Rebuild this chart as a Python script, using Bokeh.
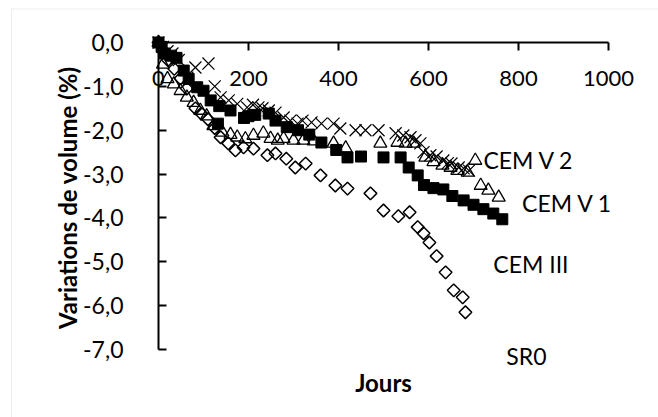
import numpy as np
from bokeh.plotting import figure
from bokeh.models import (Range1d, LinearAxis, FixedTicker, CustomJSTickFormatter,
                          Label, BoxAnnotation)
from bokeh.embed import file_html
from bokeh.resources import INLINE

# ---------------- data ----------------
x_ticks = [0, 200, 400, 600, 800, 1000]
y_ticks = [0, -1, -2, -3, -4, -5, -6, -7]

sr0_days = [0, 10, 21, 35, 49, 63, 82, 95, 110, 125, 138, 155, 171, 189, 211, 242,
            260, 284, 304, 327, 360, 393, 420, 471, 500, 533, 558, 576, 589, 602,
            618, 638, 656, 676, 682]
sr0_vol = [0, -0.2, -0.4, -0.6, -0.82, -1.05, -1.5, -1.62, -1.75, -1.95, -2.16, -2.3,
           -2.46, -2.39, -2.42, -2.57, -2.53, -2.65, -2.85, -2.76, -3.03, -3.26, -3.33,
           -3.44, -3.83, -3.96, -3.87, -4.21, -4.35, -4.56, -4.87, -5.24, -5.65, -5.81,
           -6.15]

cemv1_days = [0, 10, 20, 34, 49, 63, 78, 93, 107, 122, 142, 160, 175, 193, 211, 233,
              249, 265, 278, 300, 322, 345, 389, 416, 493, 531, 549, 567, 593, 611,
              631, 649, 664, 687, 704, 716, 733, 756]
cemv1_vol = [0, -0.5, -0.83, -0.95, -1.1, -1.25, -1.37, -1.55, -1.68, -1.9, -2.05, -2.1,
             -2.16, -2.2, -2.12, -2.07, -2.19, -2.23, -2.19, -2.23, -2.23, -2.25, -2.3,
             -2.41, -2.3, -2.28, -2.3, -2.3, -2.62, -2.72, -2.8, -2.85, -2.92, -2.96,
             -2.69, -3.26, -3.37, -3.53]

cemv2_days = [0, 10, 20, 31, 45, 64, 82, 111, 125, 138, 156, 175, 197, 210, 222, 231,
              245, 260, 278, 293, 309, 320, 340, 362, 389, 404, 438, 460, 489, 527,
              544, 560, 571, 582, 589, 604, 618, 633, 643, 651, 667, 678, 690]
cemv2_vol = [0, -0.1, -0.2, -0.25, -0.4, -0.8, -0.57, -0.48, -1.0, -1.25, -1.32, -1.4,
             -1.48, -1.42, -1.48, -1.5, -1.55, -1.6, -1.71, -1.78, -1.85, -1.78, -1.82,
             -1.85, -1.85, -1.96, -2.0, -2.0, -2.0, -2.07, -2.12, -2.16, -2.23, -2.3,
             -2.5, -2.57, -2.6, -2.69, -2.75, -2.76, -2.85, -2.87, -2.92]

cem3_days = [0, 7, 14, 28, 40, 56, 67, 86, 100, 116, 135, 132, 160, 190, 200, 215, 245,
             260, 285, 310, 335, 362, 395, 420, 450, 500, 538, 556, 576, 590, 611, 633,
             653, 678, 700, 722, 744, 764]
cem3_vol = [0, -0.1, -0.25, -0.3, -0.35, -0.64, -0.83, -1.02, -1.1, -1.32, -1.45, -1.85,
            -1.55, -1.72, -1.68, -1.65, -1.62, -1.78, -1.93, -2.0, -2.1, -2.28, -2.45,
            -2.62, -2.6, -2.62, -2.62, -2.85, -3.03, -3.25, -3.32, -3.35, -3.5, -3.6,
            -3.7, -3.8, -3.9, -4.03]

series_names = ["CEM V 2", "CEM V 1", "CEM III", "SR0"]
name_days = [722, 808, 744, 773]
name_vol = [-2.67, -3.67, -5.06, -7.14]

x_title = "Jours"
y_title = "Variations de volume (%)"

# ---------------- layout ----------------
W, H = 658, 417
X0_PX, Y0_PX = 158.0, 42.0        # pixel position of (0 days, 0 %)
PX_PER_DAY = 0.45
PX_PER_UNIT = 43.86

FONT = "Lato"

p = figure(width=W, height=H, output_backend="svg", toolbar_location=None,
           x_range=Range1d(-X0_PX / PX_PER_DAY, (W - X0_PX) / PX_PER_DAY),
           y_range=Range1d(-(H - Y0_PX) / PX_PER_UNIT, Y0_PX / PX_PER_UNIT),
           x_axis_type=None, y_axis_type=None,
           min_border_left=0, min_border_right=0, min_border_top=0, min_border_bottom=0)
p.outline_line_color = None
p.background_fill_color = "white"
p.border_fill_color = "white"

# chart-area border (light grey, left and top visible)
p.add_layout(BoxAnnotation(left=(11 - X0_PX) / PX_PER_DAY, right=5000,
                           top=(Y0_PX - 8.5) / PX_PER_UNIT, bottom=-50,
                           fill_color=None, line_color="#bfbfbf", line_width=1))

# x axis at y = 0, labels below the line
xax = LinearAxis(fixed_location=0, bounds=(0, 1000), ticker=FixedTicker(ticks=x_ticks))
xax.axis_line_width = 2
xax.axis_line_color = "black"
xax.major_tick_line_width = 2
xax.major_tick_line_color = "black"
xax.major_tick_out = 8
xax.major_tick_in = 0
xax.minor_tick_out = 0
xax.minor_tick_in = 0
xax.major_label_standoff = 20
xax.major_label_text_font = FONT
xax.major_label_text_font_size = "22px"
xax.major_label_text_color = "black"
p.add_layout(xax, "below")

# y axis at x = 0, ticks pointing right, labels to the left
yax = LinearAxis(fixed_location=0, bounds=(-7, 0), ticker=FixedTicker(ticks=y_ticks))
yax.formatter = CustomJSTickFormatter(code="return tick.toFixed(1).replace('.', ',');")
yax.axis_line_width = 2
yax.axis_line_color = "black"
yax.major_tick_line_width = 2
yax.major_tick_line_color = "black"
yax.major_tick_out = 0
yax.major_tick_in = 8
yax.minor_tick_out = 0
yax.minor_tick_in = 0
yax.major_label_standoff = 35
yax.major_label_text_font = FONT
yax.major_label_text_font_size = "23px"
yax.major_label_text_color = "black"
p.add_layout(yax, "left")

# series
p.scatter(sr0_days, sr0_vol, marker="square", angle=np.pi / 4, size=9,
          fill_color=None, line_color="black", line_width=1.5)
p.scatter(cemv1_days, cemv1_vol, marker="triangle", size=13,
          fill_color=None, line_color="black", line_width=1.3)
p.scatter(cemv2_days, cemv2_vol, marker="x", size=17,
          line_color="black", line_width=1.2)
p.scatter(cem3_days, cem3_vol, marker="square", size=11,
          fill_color="black", line_color="black", line_width=1)

# series names
for name, xd, yd in zip(series_names, name_days, name_vol):
    p.add_layout(Label(x=xd, y=yd, text=name, text_font=FONT, text_font_size="23px",
                       text_color="black", text_align="left", text_baseline="alphabetic"))

# axis titles
p.add_layout(Label(x=500, y=-7.75, text=x_title, text_font=FONT, text_font_size="24px",
                   text_font_style="bold", text_color="black", text_align="center",
                   text_baseline="alphabetic"))
p.add_layout(Label(x=-202, y=-3.54, text=y_title, text_font=FONT, text_font_size="24px",
                   text_font_style="bold", text_color="black", text_align="center",
                   text_baseline="alphabetic", angle=np.pi / 2))

open("out.html", "w").write(file_html(p, INLINE))
